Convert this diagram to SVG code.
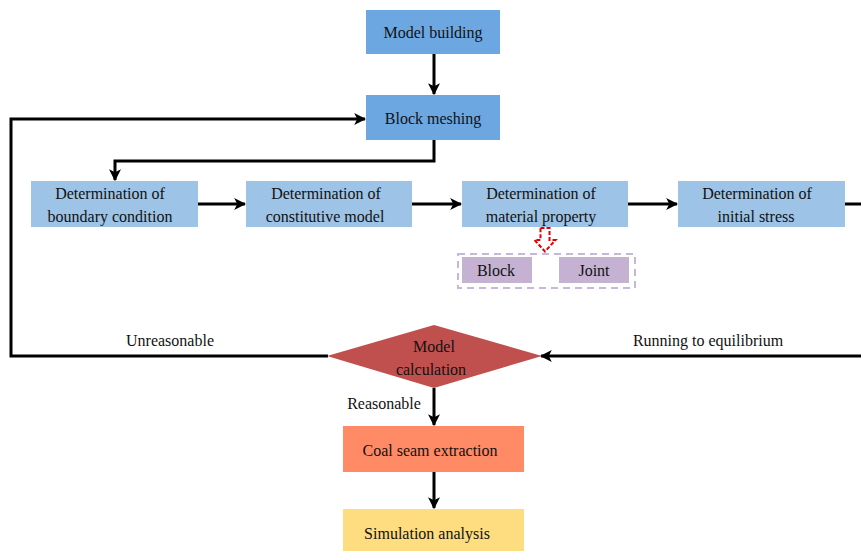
<svg xmlns="http://www.w3.org/2000/svg" width="861" height="551" viewBox="0 0 861 551">
<style>
text{font-size:16px;fill:#111;text-anchor:middle}
.top{fill:#6CA7E2}
.row{fill:#9DC3E6}
.sub{fill:#C5B2D2}
.ln{fill:none;stroke:#000;stroke-width:3}
</style>
<defs>
<marker id="ah" viewBox="0 0 10 10" refX="9" refY="5" markerWidth="4" markerHeight="4" orient="auto" markerUnits="strokeWidth">
<path d="M0,0 L10,5 L0,10 L2.5,5 Z" fill="#000"/>
</marker>
</defs>
<rect width="861" height="551" fill="#fff"/>
<g font-family="Liberation Serif, DejaVu Serif, serif">
<g id="connectors">
<line class="ln" x1="434" y1="54" x2="434" y2="94" marker-end="url(#ah)"/>
<polyline class="ln" points="434,140 434,161 115,161 115,180" marker-end="url(#ah)"/>
<line class="ln" x1="198" y1="204" x2="245" y2="204" marker-end="url(#ah)"/>
<line class="ln" x1="412" y1="204" x2="461" y2="204" marker-end="url(#ah)"/>
<line class="ln" x1="628" y1="204" x2="677" y2="204" marker-end="url(#ah)"/>
<polyline class="ln" points="845,204 864,204 864,356 541,356" marker-end="url(#ah)"/>
<polyline class="ln" points="328,356 11,356 11,119 365,119" marker-end="url(#ah)"/>
<line class="ln" x1="434" y1="388" x2="434" y2="425" marker-end="url(#ah)"/>
<line class="ln" x1="434" y1="472" x2="434" y2="508" marker-end="url(#ah)"/>
<path d="M540.5,228 L549.5,228 L549.5,240 L555.5,240 L545,251.5 L534.5,240 L540.5,240 Z" fill="#fff" stroke="#E00000" stroke-width="2" stroke-dasharray="4,2"/>
<text x="170" y="346">Unreasonable</text>
<text x="708" y="346">Running to equilibrium</text>
<text x="384" y="409">Reasonable</text>
</g>
<g id="model-building"><rect class="top" x="366" y="10" width="134" height="44"/><text x="433" y="38">Model building</text></g>
<g id="block-meshing"><rect class="top" x="366" y="95" width="134" height="45"/><text x="433" y="124">Block meshing</text></g>
<g id="boundary"><rect class="row" x="31" y="181" width="167" height="46"/><text x="110" y="199">Determination of</text><text x="110" y="222">boundary condition</text></g>
<g id="constitutive"><rect class="row" x="246" y="181" width="166" height="46"/><text x="326" y="199">Determination of</text><text x="325" y="222">constitutive model</text></g>
<g id="material"><rect class="row" x="462" y="181" width="166" height="46"/><text x="541" y="199">Determination of</text><text x="541" y="222">material property</text></g>
<g id="initial-stress"><rect class="row" x="678" y="181" width="167" height="46"/><text x="757" y="199">Determination of</text><text x="756" y="222">initial stress</text></g>
<g id="block-joint">
<rect x="458" y="254" width="177" height="34" fill="none" stroke="#C8B8D8" stroke-width="2" stroke-dasharray="7,5"/>
<rect class="sub" x="462" y="257" width="70" height="26"/><text x="496" y="276">Block</text>
<rect class="sub" x="559" y="257" width="70" height="26"/><text x="594" y="276">Joint</text>
</g>
<g id="model-calculation"><polygon points="327,356 434,325 542,356 434,388" fill="#C0504D"/><text x="434" y="352">Model</text><text x="431" y="375">calculation</text></g>
<g id="coal-seam"><rect x="343" y="426" width="181" height="46" fill="#FF8A65"/><text x="430" y="456">Coal seam extraction</text></g>
<g id="simulation"><rect x="343" y="509" width="181" height="42" fill="#FEDC80"/><text x="427" y="539">Simulation analysis</text></g>
</g>
</svg>
